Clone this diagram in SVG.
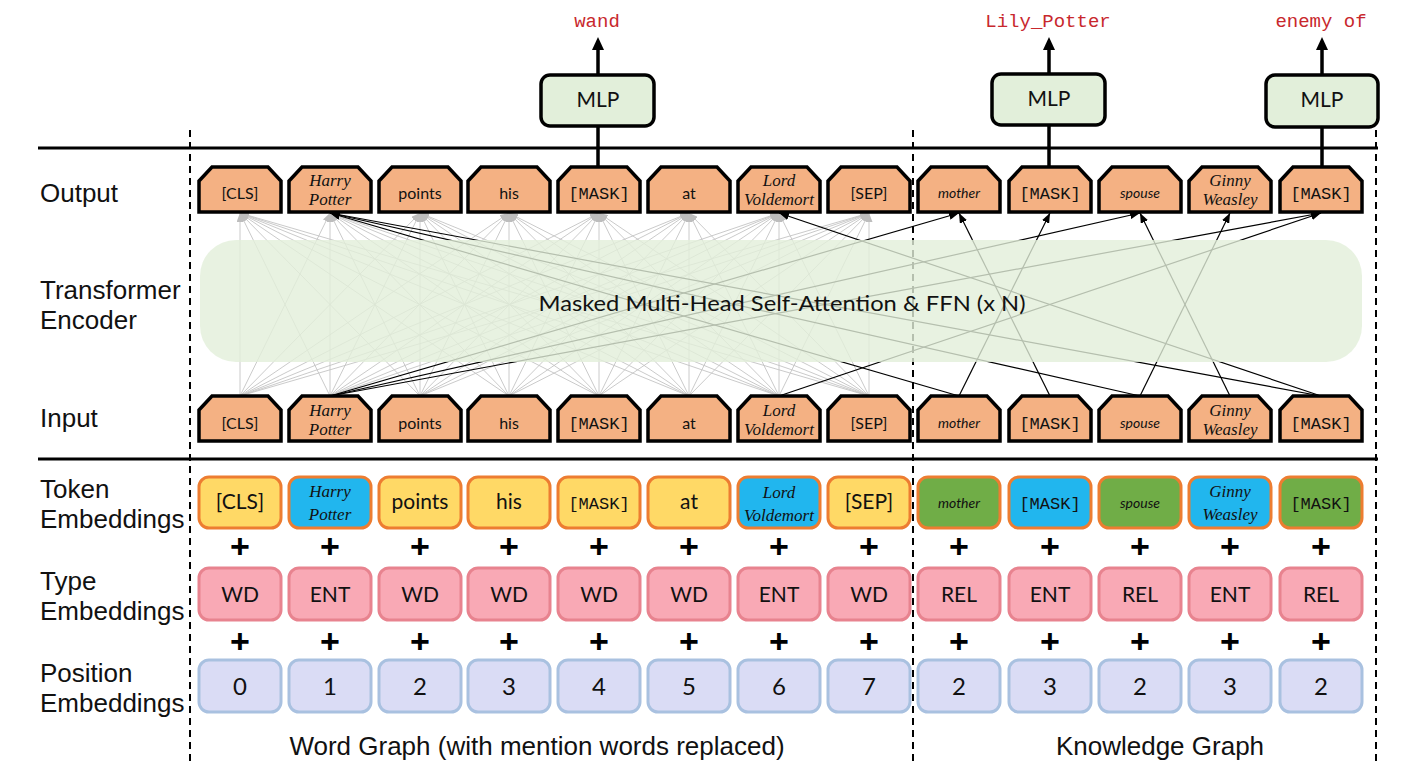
<svg xmlns="http://www.w3.org/2000/svg" xmlns:xlink="http://www.w3.org/1999/xlink" width="1419" height="775" viewBox="0 0 1419 775">
<style>
.lbl{font-family:"Liberation Sans",Arial,sans-serif;font-size:26px;fill:#111}
.nt{font-family:Lato,"Liberation Sans",sans-serif;font-size:16px;fill:#111;text-anchor:middle}
.et{font-family:Lato,"Liberation Sans",sans-serif;font-size:21px;fill:#111;text-anchor:middle}
.num{font-family:Lato,"Liberation Sans",sans-serif;font-size:24px;fill:#111;text-anchor:middle}
.it{font-family:"Liberation Serif",serif;font-style:italic;font-size:17px;fill:#111;text-anchor:middle}
.is{font-family:Lato,"Liberation Sans",sans-serif;font-style:italic;font-size:14px;fill:#111;text-anchor:middle}
.mono{font-family:"Liberation Mono",monospace;font-size:17px;fill:#111;text-anchor:middle}
.red{font-family:"Liberation Mono",monospace;font-size:19px;fill:#c8282d;text-anchor:middle}
.pl{font-family:"Liberation Sans",Arial,sans-serif;font-weight:bold;font-size:34px;fill:#000;text-anchor:middle}
.hexn{fill:#f4b183;stroke:#000;stroke-width:3.5;stroke-linejoin:miter}
.tok{fill:#ffd966;stroke:#ed7d31;stroke-width:3}
.ent{fill:#21b6ee;stroke:#ed7d31;stroke-width:3}
.rel{fill:#70ad47;stroke:#ed7d31;stroke-width:3}
.typ{fill:#f9a9b5;stroke:#e8838f;stroke-width:3}
.pos{fill:#dadcf5;stroke:#a9c1e0;stroke-width:3}
.mlp{fill:#e2efda;stroke:#000;stroke-width:3.5}
.g line{stroke:#c4c4c4;stroke-width:0.9;marker-end:url(#ag)}
.b line{stroke:#000;stroke-width:1.2;marker-end:url(#ab)}
.dash{stroke:#000;stroke-width:2;stroke-dasharray:7 5}
</style>
<defs>
<marker id="ag" markerUnits="userSpaceOnUse" markerWidth="9" markerHeight="7" refX="9" refY="3.5" orient="auto"><path d="M0,0 L9,3.5 L0,7 z" fill="#bdbdbd"/></marker>
<marker id="ab" markerUnits="userSpaceOnUse" markerWidth="10" markerHeight="8" refX="10" refY="4" orient="auto"><path d="M0,0 L10,4 L0,8 z" fill="#000"/></marker>
<path id="hex" d="M-41,45 V14 L-28,0 H28 L41,14 V45 Z"/>
</defs>
<rect width="1419" height="775" fill="#fff"/>

<!-- separators -->
<g id="separators">
<line x1="38" y1="148" x2="1378" y2="148" stroke="#000" stroke-width="3"/>
<line x1="38" y1="459" x2="1378" y2="459" stroke="#000" stroke-width="3"/>
<line class="dash" x1="190" y1="130" x2="190" y2="765"/>
<line class="dash" x1="913" y1="130" x2="913" y2="765"/>
<line class="dash" x1="1376" y1="130" x2="1376" y2="765"/>
</g>

<!-- row labels -->
<g id="row-labels">
<text class="lbl" x="40" y="202">Output</text>
<text class="lbl" x="40" y="299">Transformer</text>
<text class="lbl" x="40" y="329">Encoder</text>
<text class="lbl" x="40" y="427">Input</text>
<text class="lbl" x="40" y="498">Token</text>
<text class="lbl" x="40" y="528">Embeddings</text>
<text class="lbl" x="40" y="590">Type</text>
<text class="lbl" x="40" y="620">Embeddings</text>
<text class="lbl" x="40" y="682">Position</text>
<text class="lbl" x="40" y="712">Embeddings</text>
</g>

<!-- connectors -->
<g id="connectors">
<g class="g">
<line x1="240" y1="396" x2="240" y2="213"/><line x1="240" y1="396" x2="330" y2="213"/><line x1="240" y1="396" x2="420" y2="213"/><line x1="240" y1="396" x2="509" y2="213"/><line x1="240" y1="396" x2="599" y2="213"/><line x1="240" y1="396" x2="689" y2="213"/><line x1="240" y1="396" x2="779" y2="213"/><line x1="240" y1="396" x2="869" y2="213"/>
<line x1="330" y1="396" x2="240" y2="213"/><line x1="330" y1="396" x2="330" y2="213"/><line x1="330" y1="396" x2="420" y2="213"/><line x1="330" y1="396" x2="509" y2="213"/><line x1="330" y1="396" x2="599" y2="213"/><line x1="330" y1="396" x2="689" y2="213"/><line x1="330" y1="396" x2="779" y2="213"/><line x1="330" y1="396" x2="869" y2="213"/>
<line x1="420" y1="396" x2="240" y2="213"/><line x1="420" y1="396" x2="330" y2="213"/><line x1="420" y1="396" x2="420" y2="213"/><line x1="420" y1="396" x2="509" y2="213"/><line x1="420" y1="396" x2="599" y2="213"/><line x1="420" y1="396" x2="689" y2="213"/><line x1="420" y1="396" x2="779" y2="213"/><line x1="420" y1="396" x2="869" y2="213"/>
<line x1="509" y1="396" x2="240" y2="213"/><line x1="509" y1="396" x2="330" y2="213"/><line x1="509" y1="396" x2="420" y2="213"/><line x1="509" y1="396" x2="509" y2="213"/><line x1="509" y1="396" x2="599" y2="213"/><line x1="509" y1="396" x2="689" y2="213"/><line x1="509" y1="396" x2="779" y2="213"/><line x1="509" y1="396" x2="869" y2="213"/>
<line x1="599" y1="396" x2="240" y2="213"/><line x1="599" y1="396" x2="330" y2="213"/><line x1="599" y1="396" x2="420" y2="213"/><line x1="599" y1="396" x2="509" y2="213"/><line x1="599" y1="396" x2="599" y2="213"/><line x1="599" y1="396" x2="689" y2="213"/><line x1="599" y1="396" x2="779" y2="213"/><line x1="599" y1="396" x2="869" y2="213"/>
<line x1="689" y1="396" x2="240" y2="213"/><line x1="689" y1="396" x2="330" y2="213"/><line x1="689" y1="396" x2="420" y2="213"/><line x1="689" y1="396" x2="509" y2="213"/><line x1="689" y1="396" x2="599" y2="213"/><line x1="689" y1="396" x2="689" y2="213"/><line x1="689" y1="396" x2="779" y2="213"/><line x1="689" y1="396" x2="869" y2="213"/>
<line x1="779" y1="396" x2="240" y2="213"/><line x1="779" y1="396" x2="330" y2="213"/><line x1="779" y1="396" x2="420" y2="213"/><line x1="779" y1="396" x2="509" y2="213"/><line x1="779" y1="396" x2="599" y2="213"/><line x1="779" y1="396" x2="689" y2="213"/><line x1="779" y1="396" x2="779" y2="213"/><line x1="779" y1="396" x2="869" y2="213"/>
<line x1="869" y1="396" x2="240" y2="213"/><line x1="869" y1="396" x2="330" y2="213"/><line x1="869" y1="396" x2="420" y2="213"/><line x1="869" y1="396" x2="509" y2="213"/><line x1="869" y1="396" x2="599" y2="213"/><line x1="869" y1="396" x2="689" y2="213"/><line x1="869" y1="396" x2="779" y2="213"/><line x1="869" y1="396" x2="869" y2="213"/>
</g>
<g class="b">
<line x1="330" y1="396" x2="959" y2="213"/>
<line x1="330" y1="396" x2="1140" y2="213"/>
<line x1="330" y1="396" x2="1321" y2="213"/>
<line x1="959" y1="396" x2="330" y2="213"/>
<line x1="1140" y1="396" x2="330" y2="213"/>
<line x1="1321" y1="396" x2="330" y2="213"/>
<line x1="779" y1="396" x2="1321" y2="213"/>
<line x1="1321" y1="396" x2="779" y2="213"/>
<line x1="959" y1="396" x2="1050" y2="213"/>
<line x1="1050" y1="396" x2="959" y2="213"/>
<line x1="1140" y1="396" x2="1230" y2="213"/>
<line x1="1230" y1="396" x2="1140" y2="213"/>
</g>
<g id="mlp-links" stroke="#000" stroke-width="3.5">
<line x1="598" y1="126" x2="598" y2="167"/>
<line x1="1049" y1="125" x2="1049" y2="167"/>
<line x1="1322" y1="127" x2="1322" y2="167"/>
<line x1="598" y1="75" x2="598" y2="48"/>
<line x1="1049" y1="74" x2="1049" y2="48"/>
<line x1="1322" y1="75" x2="1322" y2="48"/>
</g>
<g id="top-arrowheads" fill="#000">
<path d="M598,37 L604,50 L592,50 z"/>
<path d="M1049,37 L1055,50 L1043,50 z"/>
<path d="M1322,37 L1328,50 L1316,50 z"/>
</g>
</g>

<!-- transformer -->
<g id="transformer">
<rect x="200" y="240" width="1162" height="122" rx="36" fill="#e2efda" fill-opacity="0.8"/>
<text x="782" y="311" font-family="Lato,'Liberation Sans',sans-serif" font-size="22" fill="#111" text-anchor="middle" textLength="487" lengthAdjust="spacingAndGlyphs">Masked Multi-Head Self-Attention &amp; FFN (x N)</text>
</g>

<!-- MLPs and predictions -->
<g id="mlp1"><rect class="mlp" x="541" y="75" width="113" height="51" rx="9"/><text class="et" x="598" y="107" font-size="18">MLP</text></g>
<g id="mlp2"><rect class="mlp" x="992" y="74" width="113" height="51" rx="9"/><text class="et" x="1049" y="106" font-size="18">MLP</text></g>
<g id="mlp3"><rect class="mlp" x="1266" y="75" width="112" height="52" rx="9"/><text class="et" x="1322" y="107" font-size="18">MLP</text></g>
<g id="pred1"><text class="red" x="597" y="27">wand</text></g>
<g id="pred2"><text class="red" x="1048" y="27">Lily_Potter</text></g>
<g id="pred3"><text class="red" x="1321" y="27">enemy of</text></g>

<!-- output nodes -->
<g id="out-cls"><use href="#hex" x="240" y="167" class="hexn"/><text class="nt" x="240" y="199">[CLS]</text></g>
<g id="out-hp"><use href="#hex" x="330" y="167" class="hexn"/><text class="it" x="330" y="186">Harry</text><text class="it" x="330" y="205">Potter</text></g>
<g id="out-points"><use href="#hex" x="420" y="167" class="hexn"/><text class="nt" x="420" y="199">points</text></g>
<g id="out-his"><use href="#hex" x="509" y="167" class="hexn"/><text class="nt" x="509" y="199">his</text></g>
<g id="out-mask1"><use href="#hex" x="599" y="167" class="hexn"/><text class="mono" x="599" y="199">[MASK]</text></g>
<g id="out-at"><use href="#hex" x="689" y="167" class="hexn"/><text class="nt" x="689" y="199">at</text></g>
<g id="out-lv"><use href="#hex" x="779" y="167" class="hexn"/><text class="it" x="779" y="186" font-size="16">Lord</text><text class="it" x="779" y="205" font-size="16">Voldemort</text></g>
<g id="out-sep"><use href="#hex" x="869" y="167" class="hexn"/><text class="nt" x="869" y="199">[SEP]</text></g>
<g id="out-mother"><use href="#hex" x="959" y="167" class="hexn"/><text class="is" x="959" y="198">mother</text></g>
<g id="out-mask2"><use href="#hex" x="1050" y="167" class="hexn"/><text class="mono" x="1050" y="199">[MASK]</text></g>
<g id="out-spouse"><use href="#hex" x="1140" y="167" class="hexn"/><text class="is" x="1140" y="198">spouse</text></g>
<g id="out-ginny"><use href="#hex" x="1230" y="167" class="hexn"/><text class="it" x="1230" y="186">Ginny</text><text class="it" x="1230" y="205">Weasley</text></g>
<g id="out-mask3"><use href="#hex" x="1321" y="167" class="hexn"/><text class="mono" x="1321" y="199">[MASK]</text></g>

<!-- input nodes -->
<g id="in-cls"><use href="#hex" x="240" y="396" class="hexn"/><text class="nt" x="240" y="429">[CLS]</text></g>
<g id="in-hp"><use href="#hex" x="330" y="396" class="hexn"/><text class="it" x="330" y="416">Harry</text><text class="it" x="330" y="435">Potter</text></g>
<g id="in-points"><use href="#hex" x="420" y="396" class="hexn"/><text class="nt" x="420" y="429">points</text></g>
<g id="in-his"><use href="#hex" x="509" y="396" class="hexn"/><text class="nt" x="509" y="429">his</text></g>
<g id="in-mask1"><use href="#hex" x="599" y="396" class="hexn"/><text class="mono" x="599" y="429">[MASK]</text></g>
<g id="in-at"><use href="#hex" x="689" y="396" class="hexn"/><text class="nt" x="689" y="429">at</text></g>
<g id="in-lv"><use href="#hex" x="779" y="396" class="hexn"/><text class="it" x="779" y="416" font-size="16">Lord</text><text class="it" x="779" y="435" font-size="16">Voldemort</text></g>
<g id="in-sep"><use href="#hex" x="869" y="396" class="hexn"/><text class="nt" x="869" y="429">[SEP]</text></g>
<g id="in-mother"><use href="#hex" x="959" y="396" class="hexn"/><text class="is" x="959" y="428">mother</text></g>
<g id="in-mask2"><use href="#hex" x="1050" y="396" class="hexn"/><text class="mono" x="1050" y="429">[MASK]</text></g>
<g id="in-spouse"><use href="#hex" x="1140" y="396" class="hexn"/><text class="is" x="1140" y="428">spouse</text></g>
<g id="in-ginny"><use href="#hex" x="1230" y="396" class="hexn"/><text class="it" x="1230" y="416">Ginny</text><text class="it" x="1230" y="435">Weasley</text></g>
<g id="in-mask3"><use href="#hex" x="1321" y="396" class="hexn"/><text class="mono" x="1321" y="429">[MASK]</text></g>

<!-- token embeddings -->
<g id="tok-cls"><rect class="tok" x="199" y="477" width="82" height="51" rx="10"/><text class="et" x="240" y="509" font-size="17">[CLS]</text></g>
<g id="tok-hp"><rect class="ent" x="289" y="477" width="82" height="51" rx="10"/><text class="it" x="330" y="497" font-size="19">Harry</text><text class="it" x="330" y="520" font-size="19">Potter</text></g>
<g id="tok-points"><rect class="tok" x="379" y="477" width="82" height="51" rx="10"/><text class="et" x="420" y="509" font-size="18">points</text></g>
<g id="tok-his"><rect class="tok" x="468" y="477" width="82" height="51" rx="10"/><text class="et" x="509" y="509" font-size="18">his</text></g>
<g id="tok-mask1"><rect class="tok" x="558" y="477" width="82" height="51" rx="10"/><text class="mono" x="599" y="509">[MASK]</text></g>
<g id="tok-at"><rect class="tok" x="648" y="477" width="82" height="51" rx="10"/><text class="et" x="689" y="509" font-size="18">at</text></g>
<g id="tok-lv"><rect class="ent" x="738" y="477" width="82" height="51" rx="10"/><text class="it" x="779" y="498" font-size="18">Lord</text><text class="it" x="779" y="521" font-size="18">Voldemort</text></g>
<g id="tok-sep"><rect class="tok" x="828" y="477" width="82" height="51" rx="10"/><text class="et" x="869" y="509" font-size="17">[SEP]</text></g>
<g id="tok-mother"><rect class="rel" x="918" y="477" width="82" height="51" rx="10"/><text class="is" x="959" y="508" font-size="15">mother</text></g>
<g id="tok-mask2"><rect class="ent" x="1009" y="477" width="82" height="51" rx="10"/><text class="mono" x="1050" y="509">[MASK]</text></g>
<g id="tok-spouse"><rect class="rel" x="1099" y="477" width="82" height="51" rx="10"/><text class="is" x="1140" y="508" font-size="15">spouse</text></g>
<g id="tok-ginny"><rect class="ent" x="1189" y="477" width="82" height="51" rx="10"/><text class="it" x="1230" y="497" font-size="19">Ginny</text><text class="it" x="1230" y="520" font-size="19">Weasley</text></g>
<g id="tok-mask3"><rect class="rel" x="1280" y="477" width="82" height="51" rx="10"/><text class="mono" x="1321" y="509">[MASK]</text></g>

<!-- plus signs -->
<g id="plus-row1">
<text class="pl" x="240" y="558">+</text><text class="pl" x="330" y="558">+</text><text class="pl" x="420" y="558">+</text><text class="pl" x="509" y="558">+</text><text class="pl" x="599" y="558">+</text><text class="pl" x="689" y="558">+</text><text class="pl" x="779" y="558">+</text><text class="pl" x="869" y="558">+</text><text class="pl" x="959" y="558">+</text><text class="pl" x="1050" y="558">+</text><text class="pl" x="1140" y="558">+</text><text class="pl" x="1230" y="558">+</text><text class="pl" x="1321" y="558">+</text>
</g>
<g id="plus-row2">
<text class="pl" x="240" y="653">+</text><text class="pl" x="330" y="653">+</text><text class="pl" x="420" y="653">+</text><text class="pl" x="509" y="653">+</text><text class="pl" x="599" y="653">+</text><text class="pl" x="689" y="653">+</text><text class="pl" x="779" y="653">+</text><text class="pl" x="869" y="653">+</text><text class="pl" x="959" y="653">+</text><text class="pl" x="1050" y="653">+</text><text class="pl" x="1140" y="653">+</text><text class="pl" x="1230" y="653">+</text><text class="pl" x="1321" y="653">+</text>
</g>

<!-- type embeddings -->
<g id="typ-0"><rect class="typ" x="199" y="568" width="82" height="52" rx="10"/><text class="et" x="240" y="602">WD</text></g>
<g id="typ-1"><rect class="typ" x="289" y="568" width="82" height="52" rx="10"/><text class="et" x="330" y="602">ENT</text></g>
<g id="typ-2"><rect class="typ" x="379" y="568" width="82" height="52" rx="10"/><text class="et" x="420" y="602">WD</text></g>
<g id="typ-3"><rect class="typ" x="468" y="568" width="82" height="52" rx="10"/><text class="et" x="509" y="602">WD</text></g>
<g id="typ-4"><rect class="typ" x="558" y="568" width="82" height="52" rx="10"/><text class="et" x="599" y="602">WD</text></g>
<g id="typ-5"><rect class="typ" x="648" y="568" width="82" height="52" rx="10"/><text class="et" x="689" y="602">WD</text></g>
<g id="typ-6"><rect class="typ" x="738" y="568" width="82" height="52" rx="10"/><text class="et" x="779" y="602">ENT</text></g>
<g id="typ-7"><rect class="typ" x="828" y="568" width="82" height="52" rx="10"/><text class="et" x="869" y="602">WD</text></g>
<g id="typ-8"><rect class="typ" x="918" y="568" width="82" height="52" rx="10"/><text class="et" x="959" y="602">REL</text></g>
<g id="typ-9"><rect class="typ" x="1009" y="568" width="82" height="52" rx="10"/><text class="et" x="1050" y="602">ENT</text></g>
<g id="typ-10"><rect class="typ" x="1099" y="568" width="82" height="52" rx="10"/><text class="et" x="1140" y="602">REL</text></g>
<g id="typ-11"><rect class="typ" x="1189" y="568" width="82" height="52" rx="10"/><text class="et" x="1230" y="602">ENT</text></g>
<g id="typ-12"><rect class="typ" x="1280" y="568" width="82" height="52" rx="10"/><text class="et" x="1321" y="602">REL</text></g>

<!-- position embeddings -->
<g id="pos-0"><rect class="pos" x="199" y="660" width="82" height="52" rx="10"/><text class="num" x="240" y="695">0</text></g>
<g id="pos-1"><rect class="pos" x="289" y="660" width="82" height="52" rx="10"/><text class="num" x="330" y="695">1</text></g>
<g id="pos-2"><rect class="pos" x="379" y="660" width="82" height="52" rx="10"/><text class="num" x="420" y="695">2</text></g>
<g id="pos-3"><rect class="pos" x="468" y="660" width="82" height="52" rx="10"/><text class="num" x="509" y="695">3</text></g>
<g id="pos-4"><rect class="pos" x="558" y="660" width="82" height="52" rx="10"/><text class="num" x="599" y="695">4</text></g>
<g id="pos-5"><rect class="pos" x="648" y="660" width="82" height="52" rx="10"/><text class="num" x="689" y="695">5</text></g>
<g id="pos-6"><rect class="pos" x="738" y="660" width="82" height="52" rx="10"/><text class="num" x="779" y="695">6</text></g>
<g id="pos-7"><rect class="pos" x="828" y="660" width="82" height="52" rx="10"/><text class="num" x="869" y="695">7</text></g>
<g id="pos-8"><rect class="pos" x="918" y="660" width="82" height="52" rx="10"/><text class="num" x="959" y="695">2</text></g>
<g id="pos-9"><rect class="pos" x="1009" y="660" width="82" height="52" rx="10"/><text class="num" x="1050" y="695">3</text></g>
<g id="pos-10"><rect class="pos" x="1099" y="660" width="82" height="52" rx="10"/><text class="num" x="1140" y="695">2</text></g>
<g id="pos-11"><rect class="pos" x="1189" y="660" width="82" height="52" rx="10"/><text class="num" x="1230" y="695">3</text></g>
<g id="pos-12"><rect class="pos" x="1280" y="660" width="82" height="52" rx="10"/><text class="num" x="1321" y="695">2</text></g>

<!-- bottom captions -->
<g id="captions">
<text class="lbl" x="537" y="755" text-anchor="middle">Word Graph (with mention words replaced)</text>
<text class="lbl" x="1160" y="755" text-anchor="middle">Knowledge Graph</text>
</g>
</svg>
